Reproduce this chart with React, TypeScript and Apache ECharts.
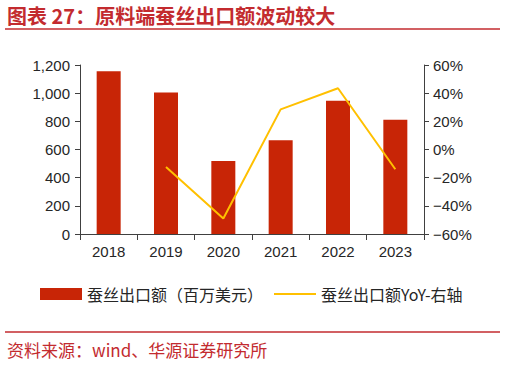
import React, { useEffect, useRef } from "react";
import * as echarts from "echarts";

const categories = ["2018", "2019", "2020", "2021", "2022", "2023"];
const exportValues = [1155, 1005, 518, 665, 947, 812];
const yoyValues: (number | null)[] = [null, -12.5, -49, 28.5, 43.5, -14];
const leftTicks = { min: 0, max: 1200, interval: 200 };
const rightTicks = { min: -60, max: 60, interval: 20 };
const barName = "蚕丝出口额（百万美元）";
const lineName = "蚕丝出口额YoY-右轴";
const titleText = "图表 27：原料端蚕丝出口额波动较大";
const sourceText = "资料来源：wind、华源证券研究所";

const RED = "#c32b2f";
const BAR = "#c82506";
const LINE = "#ffc000";
const AXIS = "#404040";
const TEXT = "#262626";
const FONT = "'Liberation Sans', Arial, 'Noto Sans CJK SC', sans-serif";

export default function App() {
  const ref = useRef<HTMLDivElement>(null);
  useEffect(() => {
    if (!ref.current) return;
    const chart = echarts.init(ref.current, null, { renderer: "svg" });
    chart.setOption({
      animation: false,
      backgroundColor: "#fff",
      textStyle: { fontFamily: FONT },
      grid: { left: 80, right: 82, top: 65, bottom: 131 },
      legend: {
        left: 40,
        top: 286,
        padding: 0,
        itemWidth: 42,
        itemHeight: 12,
        itemGap: 11,
        textStyle: { fontSize: 16, color: TEXT, fontFamily: "'Noto Sans CJK SC', sans-serif" },
        data: [
          { name: barName, icon: "rect" },
          { name: lineName, icon: "path://M0,0H42V2H0Z", itemStyle: { color: LINE } },
        ],
      },
      xAxis: {
        type: "category",
        data: categories,
        axisLine: { lineStyle: { color: AXIS, width: 1 } },
        axisTick: { show: true, length: 6, alignWithLabel: false, lineStyle: { color: AXIS } },
        axisLabel: { fontSize: 15, color: TEXT, margin: 10 },
      },
      yAxis: [
        {
          type: "value",
          min: leftTicks.min,
          max: leftTicks.max,
          interval: leftTicks.interval,
          axisLine: { show: true, lineStyle: { color: AXIS } },
          axisTick: { show: true, length: 5, lineStyle: { color: AXIS } },
          splitLine: { show: false },
          axisLabel: {
            fontSize: 15,
            color: TEXT,
            margin: 10,
            formatter: (v: number) => v.toLocaleString("en-US"),
          },
        },
        {
          type: "value",
          position: "right",
          min: rightTicks.min,
          max: rightTicks.max,
          interval: rightTicks.interval,
          axisLine: { show: true, lineStyle: { color: AXIS } },
          axisTick: { show: true, length: 5, lineStyle: { color: AXIS } },
          splitLine: { show: false },
          axisLabel: {
            fontSize: 15,
            color: TEXT,
            margin: 9,
            formatter: (v: number) => (v < 0 ? "\u2212" + Math.abs(v) : String(v)) + "%",
          },
        },
      ],
      series: [
        {
          name: barName,
          type: "bar",
          data: exportValues,
          barWidth: 24,
          itemStyle: { color: BAR },
        },
        {
          name: lineName,
          type: "line",
          yAxisIndex: 1,
          data: yoyValues,
          symbol: "none",
          connectNulls: false,
          lineStyle: { color: LINE, width: 2 },
          itemStyle: { color: LINE },
        },
      ],
      graphic: [
        {
          type: "text",
          left: 7,
          top: 5,
          style: {
            text: titleText,
            fill: RED,
            font: "bold 20px 'Noto Sans CJK SC', sans-serif",
          },
        },
        {
          type: "line",
          shape: { x1: 5, y1: 29, x2: 500, y2: 29 },
          style: { stroke: RED, lineWidth: 1.5 },
        },
        {
          type: "line",
          shape: { x1: 5, y1: 332, x2: 500, y2: 332 },
          style: { stroke: RED, lineWidth: 1.5 },
        },
        {
          type: "text",
          left: 7,
          top: 341,
          style: {
            text: sourceText,
            fill: RED,
            font: "17px 'Noto Sans CJK SC', sans-serif",
          },
        },
      ],
    });
    return () => chart.dispose();
  }, []);
  return <div ref={ref} style={{ width: 506, height: 365, position: "absolute", left: 0, top: 0 }} />;
}
